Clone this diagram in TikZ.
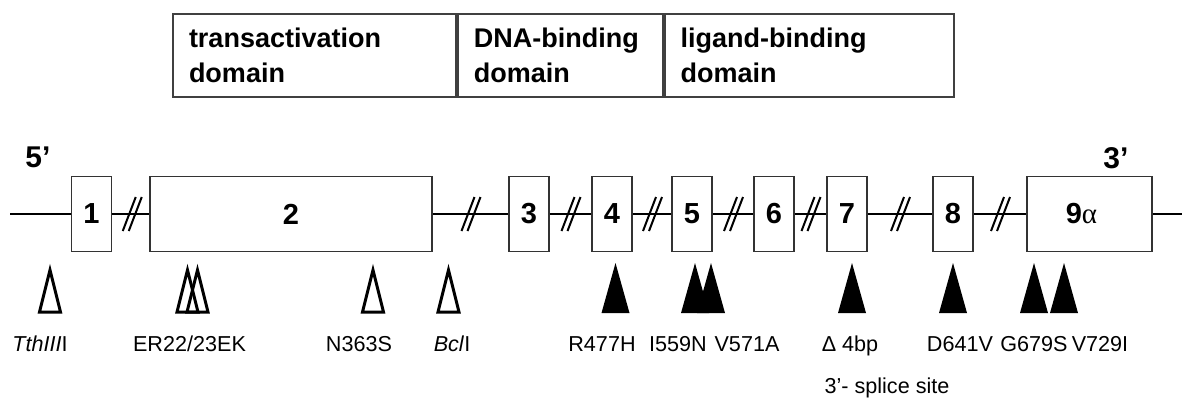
\documentclass[tikz,border=0pt]{standalone}
\usepackage{fontspec}
\setmainfont{Liberation Sans}
\newfontfamily\alphafont{Liberation Serif}
\usepackage{tikz}

\begin{document}
\begin{tikzpicture}[x=0.5pt, y=-0.5pt,
    enode/.style={draw=black!80, line width=0.9pt, fill=white, minimum width=20pt, minimum height=37.5pt, inner sep=0pt, font=\fontsize{14.5}{17}\selectfont\bfseries},
    dnode/.style={draw=black!75, line width=0.9pt, minimum height=41.5pt, inner xsep=8pt, inner ysep=0pt, align=left, font=\fontsize{13.5}{17.5}\selectfont\bfseries},
    endnode/.style={anchor=base west, inner sep=0pt, font=\fontsize{15}{18}\selectfont\bfseries},
    lnode/.style={anchor=base, inner sep=0pt, font=\fontsize{10.8}{13}\selectfont},
    gene/.style={line width=1.2pt},
    brk/.style={line width=1pt},
    otri/.style={line width=1.5pt, miter limit=20},
    ftri/.style={fill=black}]

    \useasboundingbox (0,0) rectangle (1182,398);

    % protein domains
    \node[dnode, text width=125.5pt] (td) at (314.5,55.5) {transactivation\\domain};
    \node[dnode, text width=86.5pt, anchor=west] (dbd) at (td.east) {DNA-binding\\domain};
    \node[dnode, text width=128.5pt, anchor=west] (lbd) at (dbd.east) {ligand-binding\\domain};

    % exons
    \node[endnode] (p5) at (25,167) {5’};
    \node[endnode] (p3) at (1103,168) {3’};
    \coordinate (g0) at (10,214);
    \coordinate (g10) at (1182,214);
    \node[enode] (e1) at (91.5,214) {1};
    \node[enode, minimum width=141pt] (e2) at (291,214) {2};
    \node[enode] (e3) at (529,214) {3};
    \node[enode] (e4) at (612,214) {4};
    \node[enode] (e5) at (692,214) {5};
    \node[enode] (e6) at (774,214) {6};
    \node[enode] (e7) at (847,214) {7};
    \node[enode] (e8) at (953,214) {8};
    \node[enode, minimum width=62.5pt] (e9) at (1089.5,214) {9{\alphafont\mdseries α}\hspace*{8pt}};

    \draw[gene] (g0) -- (e1);
    \draw[gene] (e1) -- coordinate[pos=0.5] (m1) (e2);
    \draw[gene] (e2) -- coordinate[pos=0.5] (m2) (e3);
    \draw[gene] (e3) -- coordinate[pos=0.5] (m3) (e4);
    \draw[gene] (e4) -- coordinate[pos=0.5] (m4) (e5);
    \draw[gene] (e5) -- coordinate[pos=0.5] (m5) (e6);
    \draw[gene] (e6) -- coordinate[pos=0.5] (m6) (e7);
    \draw[gene] (e7) -- coordinate[pos=0.5] (m7) (e8);
    \draw[gene] (e8) -- coordinate[pos=0.5] (m8) (e9);
    \draw[gene] (e9) -- (g10);

    % intron breaks
    \draw[brk] (m1) ++(-8,17) -- ++(13,-34) (m1) ++(-2,17) -- ++(13,-34);
    \draw[brk] (m2) ++(-9,17) -- ++(13,-34) (m2) ++(-3,17) -- ++(13,-34);
    \draw[brk] (m3) ++(-9,17) -- ++(13,-34) (m3) ++(-3,17) -- ++(13,-34);
    \draw[brk] (m4) ++(-9,17) -- ++(13,-34) (m4) ++(-3,17) -- ++(13,-34);
    \draw[brk] (m5) ++(-9,17) -- ++(13,-34) (m5) ++(-3,17) -- ++(13,-34);
    \draw[brk] (m6) ++(-9,17) -- ++(13,-34) (m6) ++(-3,17) -- ++(13,-34);
    \draw[brk] (m7) ++(-9,17) -- ++(13,-34) (m7) ++(-3,17) -- ++(13,-34);
    \draw[brk] (m8) ++(-9,17) -- ++(13,-34) (m8) ++(-3,17) -- ++(13,-34);

    % polymorphisms
    \draw[otri] (50,270) -- ++(10.5,42) -- ++(-21,0) -- cycle;
    \draw[otri] (187.5,270) -- ++(10.5,42) -- ++(-21,0) -- cycle;
    \draw[otri] (197.5,270) -- ++(10.5,42) -- ++(-21,0) -- cycle;
    \draw[otri] (373,270) -- ++(10.5,42) -- ++(-21,0) -- cycle;
    \draw[otri] (448.5,270) -- ++(10.5,42) -- ++(-21,0) -- cycle;

    % mutations
    \fill[ftri] (615.5,263) -- ++(14,50) -- ++(-28,0) -- cycle;
    \fill[ftri] (695,263) -- ++(14,50) -- ++(-28,0) -- cycle;
    \fill[ftri] (711,263) -- ++(14,50) -- ++(-28,0) -- cycle;
    \fill[ftri] (852,263) -- ++(14,50) -- ++(-28,0) -- cycle;
    \fill[ftri] (953,263) -- ++(14,50) -- ++(-28,0) -- cycle;
    \fill[ftri] (1034,263) -- ++(14,50) -- ++(-28,0) -- cycle;
    \fill[ftri] (1064,263) -- ++(14,50) -- ++(-28,0) -- cycle;

    \node[lnode] (l1) at (40,351) {\textit{TthIII}I};
    \node[lnode] (l2) at (189.5,351) {ER22/23EK};
    \node[lnode] (l3) at (359,351) {N363S};
    \node[lnode] (l4) at (452,351) {\textit{Bcl}I};
    \node[lnode] (l5) at (602,351) {R477H};
    \node[lnode] (l6) at (678,351) {I559N};
    \node[lnode] (l7) at (747,351) {V571A};
    \node[lnode] (l8) at (850,351) {Δ 4bp};
    \node[lnode] (l9) at (960,351) {D641V};
    \node[lnode] (l10) at (1034,351) {G679S};
    \node[lnode] (l11) at (1100,351) {V729I};
    \node[lnode] (l12) at (887,393) {3’- splice site};
\end{tikzpicture}
\end{document}
